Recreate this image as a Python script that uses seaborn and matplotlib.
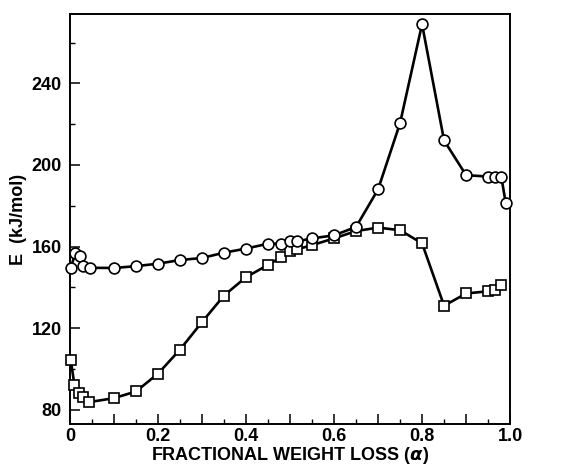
import matplotlib
matplotlib.use("Agg")
import matplotlib.pyplot as plt
import seaborn as sns
import pandas as pd
from matplotlib.ticker import MultipleLocator, FixedLocator

# ---- data ----
circle_x = [0.002, 0.012, 0.023, 0.03, 0.045, 0.10, 0.15, 0.20, 0.25, 0.30, 0.35,
            0.40, 0.45, 0.48, 0.50, 0.515, 0.55, 0.60, 0.65, 0.70, 0.75, 0.80,
            0.85, 0.90, 0.95, 0.965, 0.98, 0.99]
circle_y = [149.5, 157, 155.3, 150.4, 149.6, 149.5, 150.4, 151.6, 153.4, 154.4, 157,
            159, 161.4, 161.4, 162.5, 162.5, 164, 165.5, 169.6, 188, 220.5, 269,
            212, 195, 194.3, 194.3, 194.3, 181.5]

square_x = [0.002, 0.01, 0.021, 0.03, 0.044, 0.10, 0.15, 0.20, 0.25, 0.30, 0.35,
            0.40, 0.45, 0.48, 0.50, 0.515, 0.55, 0.60, 0.65, 0.70, 0.75, 0.80,
            0.85, 0.90, 0.95, 0.965, 0.98]
square_y = [104.2, 92.3, 88.2, 86.2, 83.8, 85.7, 89, 97.7, 109.5, 123, 136,
            145, 151, 154.8, 157.8, 158.6, 160.7, 164, 167.6, 169.3, 168, 161.6,
            131, 137, 138.1, 138.5, 141]

x_tick_labels = ["0", "", "0.2", "", "0.4", "", "0.6", "", "0.8", "", "1.0"]
y_tick_values = [80, 120, 160, 200, 240]

df_c = pd.DataFrame({"alpha": circle_x, "E": circle_y})
df_s = pd.DataFrame({"alpha": square_x, "E": square_y})

sns.set_style("ticks")
plt.rcParams["font.family"] = ["Liberation Sans", "DejaVu Sans"]
plt.rcParams["font.weight"] = "bold"
plt.rcParams["mathtext.fontset"] = "dejavusans"
plt.rcParams["text.color"] = "black"
plt.rcParams["axes.labelcolor"] = "black"

fig = plt.figure(figsize=(5.63, 4.65), dpi=100)
ax = fig.add_axes([0.1243, 0.088, 0.906 - 0.1243, 0.970 - 0.088])

line_kw = dict(color="black", linewidth=1.9, markersize=7.8, markeredgewidth=1.2,
               markerfacecolor="white", markeredgecolor="black", sort=False,
               estimator=None, legend=False, clip_on=False)
sns.lineplot(data=df_s, x="alpha", y="E", marker="s", ax=ax, **line_kw)
sns.lineplot(data=df_c, x="alpha", y="E", marker="o", ax=ax, **line_kw)

ax.set_xlim(0, 1.0)
ax.set_ylim(73, 274)

ax.xaxis.set_major_locator(FixedLocator([i / 10 for i in range(11)]))
ax.set_xticklabels(x_tick_labels)
ax.xaxis.set_minor_locator(MultipleLocator(0.05))
ax.set_yticks(y_tick_values)
ax.set_yticklabels([str(v) for v in y_tick_values])
ax.yaxis.set_minor_locator(MultipleLocator(20))

ax.tick_params(axis="both", which="major", direction="in", length=7.5, width=1.1,
               labelsize=13, colors="black")
ax.tick_params(axis="both", which="minor", direction="in", length=3.8, width=1.0,
               colors="black")
ax.tick_params(axis="y", which="major", pad=6)
ax.tick_params(axis="x", which="major", pad=3)

for s in ax.spines.values():
    s.set_linewidth(1.4)
    s.set_color("black")
    s.set_visible(True)
    s.set_zorder(1)

ax.set_xlabel(r"FRACTIONAL WEIGHT LOSS ($\alpha$)", fontsize=13, fontweight="bold",
              labelpad=0, color="black")
ax.set_ylabel("E  (kJ/mol)", fontsize=13, fontweight="bold", labelpad=3, color="black")

fig.savefig("out.png", dpi=100)
